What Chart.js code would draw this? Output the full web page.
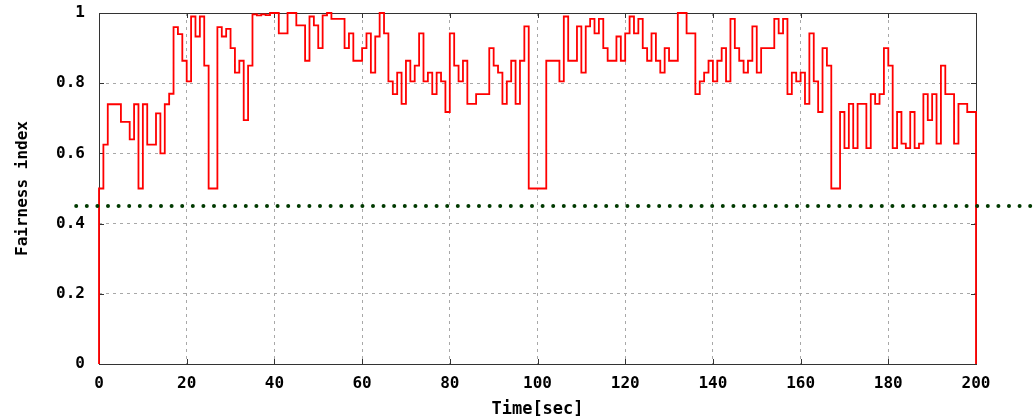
<!DOCTYPE html>
<html>
<head>
<meta charset="utf-8">
<script src="https://cdn.jsdelivr.net/npm/chart.js@4.4.1/dist/chart.umd.min.js"></script>
<style>
    html, body { margin: 0; padding: 0; background: #ffffff; }
</style>
</head>
<body>
<canvas id="fairnessChart" width="1036" height="420"></canvas>
<script>
// fairness index sampled once per second, t = 0 .. 199
const fairness = [
    0.5, 0.625, 0.74, 0.74, 0.74, 0.69, 0.69, 0.64, 0.74, 0.5,
    0.74, 0.625, 0.625, 0.714, 0.6, 0.74, 0.77, 0.96, 0.94, 0.864,
    0.805, 0.99, 0.933, 0.99, 0.85, 0.5, 0.5, 0.96, 0.933, 0.955,
    0.9, 0.83, 0.864, 0.695, 0.85, 0.996, 0.993, 0.996, 0.994, 1.0,
    1.0, 0.942, 0.942, 1.0, 1.0, 0.965, 0.965, 0.864, 0.99, 0.965,
    0.9, 0.993, 1.0, 0.983, 0.983, 0.983, 0.9, 0.942, 0.864, 0.864,
    0.9, 0.942, 0.83, 0.933, 1.0, 0.942, 0.805, 0.769, 0.83, 0.741,
    0.864, 0.805, 0.85, 0.942, 0.805, 0.83, 0.769, 0.83, 0.805, 0.718,
    0.942, 0.85, 0.805, 0.864, 0.741, 0.741, 0.769, 0.769, 0.769, 0.9,
    0.85, 0.83, 0.741, 0.805, 0.864, 0.741, 0.864, 0.962, 0.5, 0.5,
    0.5, 0.5, 0.864, 0.864, 0.864, 0.805, 0.99, 0.864, 0.864, 0.962,
    0.83, 0.962, 0.983, 0.942, 0.983, 0.9, 0.864, 0.864, 0.933, 0.864,
    0.942, 0.99, 0.942, 0.983, 0.9, 0.864, 0.942, 0.864, 0.83, 0.9,
    0.864, 0.864, 1.0, 1.0, 0.942, 0.942, 0.769, 0.805, 0.83, 0.864,
    0.805, 0.864, 0.9, 0.805, 0.983, 0.9, 0.864, 0.83, 0.864, 0.962,
    0.83, 0.9, 0.9, 0.9, 0.983, 0.942, 0.983, 0.769, 0.83, 0.805,
    0.83, 0.741, 0.942, 0.805, 0.718, 0.9, 0.85, 0.5, 0.5, 0.718,
    0.615, 0.741, 0.615, 0.741, 0.741, 0.615, 0.769, 0.741, 0.769, 0.9,
    0.85, 0.615, 0.718, 0.628, 0.615, 0.718, 0.615, 0.628, 0.769, 0.695,
    0.769, 0.628, 0.85, 0.769, 0.769, 0.628, 0.741, 0.741, 0.718, 0.718,
];
const traceStart = 0;   // value before the first sample
const traceEnd = 0;     // value after the last sample
const endTime = 200;

const threshold = 0.45;
const thresholdSpan = [-5.2, 212.5];

const xTickValues = [0, 20, 40, 60, 80, 100, 120, 140, 160, 180, 200];
const yTickValues = [0, 0.2, 0.4, 0.6, 0.8, 1];
const yTickLabels = ['0', '0.2', '0.4', '0.6', '0.8', '1'];

const fontFamily = '"DejaVu Sans Mono", "Liberation Mono", monospace';

const points = [{ x: 0, y: traceStart }]
    .concat(fairness.map((v, i) => ({ x: i, y: v })))
    .concat([{ x: endTime, y: traceEnd }]);

// gnuplot style frame: solid border with short inward tics on all four sides
const framePlugin = {
    id: 'frame',
    beforeDatasetsDraw(chart) {
        const { ctx, chartArea: a, scales: { x, y } } = chart;
        const tic = 5;

        ctx.save();
        ctx.strokeStyle = '#333333';
        ctx.lineWidth = 1;
        ctx.strokeRect(Math.round(a.left) + 0.5, Math.round(a.top) + 0.5,
            Math.round(a.right - a.left), Math.round(a.bottom - a.top));

        ctx.beginPath();
        x.ticks.forEach(t => {
            const px = Math.round(x.getPixelForValue(t.value)) + 0.5;
            ctx.moveTo(px, a.bottom);
            ctx.lineTo(px, a.bottom - tic);
            ctx.moveTo(px, a.top);
            ctx.lineTo(px, a.top + tic);
        });
        y.ticks.forEach(t => {
            const py = Math.round(y.getPixelForValue(t.value)) + 0.5;
            ctx.moveTo(a.left, py);
            ctx.lineTo(a.left + tic, py);
            ctx.moveTo(a.right, py);
            ctx.lineTo(a.right - tic, py);
        });
        ctx.stroke();
        ctx.restore();
    },
};

new Chart(document.getElementById('fairnessChart'), {
    type: 'line',
    data: {
        datasets: [
            {
                label: 'threshold',
                data: thresholdSpan.map(t => ({ x: t, y: threshold })),
                borderColor: '#003a00',
                borderWidth: 4,
                borderDash: [0, 10.6],
                borderCapStyle: 'round',
                pointRadius: 0,
                fill: false,
                clip: false,
                order: 0,
            },
            {
                label: 'Fairness index',
                data: points,
                stepped: true,
                borderColor: '#ff0000',
                borderWidth: 1.8,
                pointRadius: 0,
                fill: false,
                clip: false,
                order: 1,
            },
        ],
    },
    options: {
        responsive: false,
        animation: false,
        layout: {
            padding: { left: 0, right: 60, top: 13, bottom: 0 },
        },
        plugins: {
            legend: { display: false },
            tooltip: { enabled: false },
        },
        scales: {
            x: {
                type: 'linear',
                min: 0,
                max: endTime,
                afterBuildTicks: scale => {
                    scale.ticks = xTickValues.map(v => ({ value: v }));
                },
                afterFit: scale => {
                    scale.height = 56;
                    scale.paddingLeft = 0;
                    scale.paddingRight = 0;
                },
                grid: {
                    color: ctx => (ctx.tick && (ctx.tick.value === 0 || ctx.tick.value === endTime)) ? 'rgba(0,0,0,0)' : '#a8a8a8',
                    lineWidth: 1,
                    drawTicks: false,
                },
                border: { display: false, dash: [3, 4] },
                ticks: {
                    color: '#000000',
                    padding: 10,
                    maxRotation: 0,
                    autoSkip: false,
                    font: { family: fontFamily, size: 16, weight: 'bold' },
                    callback: value => String(value),
                },
                title: {
                    display: true,
                    text: 'Time[sec]',
                    color: '#000000',
                    padding: { top: 0, bottom: 0 },
                    font: { family: fontFamily, size: 17, weight: 'bold' },
                },
            },
            y: {
                min: 0,
                max: 1,
                afterBuildTicks: scale => {
                    scale.ticks = yTickValues.map(v => ({ value: v }));
                },
                afterFit: scale => {
                    scale.width = 99;
                    scale.paddingTop = 0;
                    scale.paddingBottom = 0;
                },
                grid: {
                    color: ctx => (ctx.tick && (ctx.tick.value === 0 || ctx.tick.value === 1)) ? 'rgba(0,0,0,0)' : '#a8a8a8',
                    lineWidth: 1,
                    drawTicks: false,
                },
                border: { display: false, dash: [3, 4] },
                ticks: {
                    color: '#000000',
                    padding: 14,
                    font: { family: fontFamily, size: 16, weight: 'bold' },
                    callback: value => yTickLabels[yTickValues.indexOf(value)] ?? String(value),
                },
                title: {
                    display: true,
                    text: 'Fairness index',
                    color: '#000000',
                    padding: { top: 13, bottom: 0 },
                    font: { family: fontFamily, size: 16, weight: 'bold' },
                },
            },
        },
    },
    plugins: [framePlugin],
});
</script>
</body>
</html>
